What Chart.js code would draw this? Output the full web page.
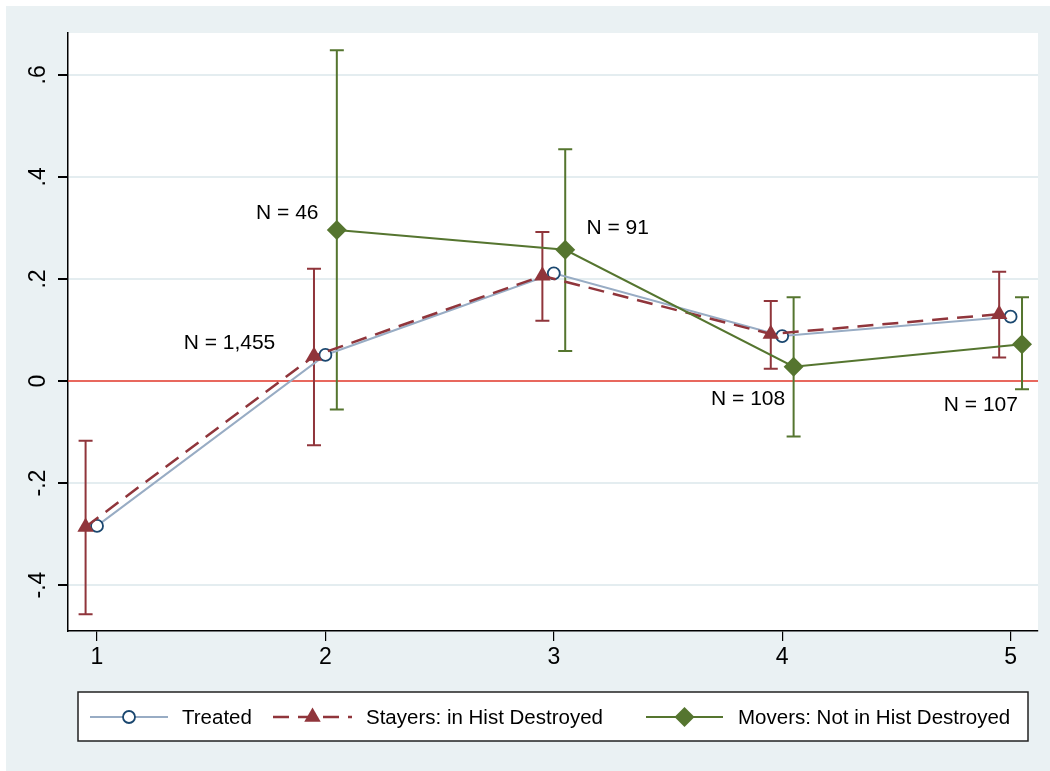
<!DOCTYPE html>
<html>
<head>
<meta charset="utf-8">
<script src="https://cdn.jsdelivr.net/npm/chart.js@4"></script>
<style>
  html, body { margin: 0; padding: 0; background: #fff; }
  #wrap { width: 1050px; height: 771px; }
</style>
</head>
<body>
<div id="wrap"><canvas id="chart" width="1050" height="771"></canvas></div>
<script>
// data
const periods = [1, 2, 3, 4, 5];
const xTicks = [1, 2, 3, 4, 5];
const yTicks = [-0.4, -0.2, 0, 0.2, 0.4, 0.6];
const yTickLabels = ['-.4', '-.2', '0', '.2', '.4', '.6'];

const treated = [-0.284, 0.051, 0.211, 0.088, 0.126];

const stayers = [-0.286, 0.049, 0.206, 0.092, 0.131];
const stayersLo = [-0.457, -0.126, 0.118, 0.024, 0.046];
const stayersHi = [-0.117, 0.220, 0.292, 0.157, 0.214];

const movers = [null, 0.296, 0.257, 0.028, 0.072];
const moversLo = [null, -0.056, 0.059, -0.109, -0.016];
const moversHi = [null, 0.648, 0.454, 0.164, 0.164];

const noteTexts = ['N = 1,455', 'N = 46', 'N = 91', 'N = 108', 'N = 107'];
const noteX = [1.58, 1.833, 3.28, 3.851, 4.87];
const noteY = [0.075, 0.329, 0.30, -0.035, -0.047];

const legendLabels = ['Treated', 'Stayers: in Hist Destroyed', 'Movers: Not in Hist Destroyed'];

// horizontal offset so the three series don't overlap
const shift = 0.05;

const FONT = "'Liberation Sans', Arial, sans-serif";
const C_TREAT_LINE = '#98acc4';
const C_TREAT_MARK = '#1a476f';
const C_STAY = '#90353b';
const C_MOVE = '#55752f';

function toPoints(vals, dx) {
    return periods.map((p, i) => vals[i] === null ? null : { x: p + dx, y: vals[i] }).filter(Boolean);
}

// backgrounds: light blue graph region, white plot region
const bgPlugin = {
    id: 'bg',
    beforeDraw(chart) {
        const ctx = chart.ctx;
        const a = chart.chartArea;
        ctx.save();
        ctx.fillStyle = '#ffffff';
        ctx.fillRect(0, 0, chart.width, chart.height);
        ctx.fillStyle = '#eaf1f3';
        ctx.fillRect(6, 6, chart.width - 6, chart.height - 6);
        ctx.fillStyle = '#ffffff';
        ctx.fillRect(a.left, a.top, a.right - a.left, a.bottom - a.top);
        ctx.restore();
    }
};

// red zero line, error bars, N labels, rotated y labels, legend
const extrasPlugin = {
    id: 'extras',
    beforeDatasetsDraw(chart) {
        const ctx = chart.ctx;
        const x = chart.scales.x, y = chart.scales.y;
        const a = chart.chartArea;
        ctx.save();
        ctx.strokeStyle = '#ea3b2e';
        ctx.lineWidth = 1.6;
        ctx.beginPath();
        ctx.moveTo(a.left, y.getPixelForValue(0));
        ctx.lineTo(a.right, y.getPixelForValue(0));
        ctx.stroke();

        const bars = [
            { mid: stayers, lo: stayersLo, hi: stayersHi, dx: -shift, color: C_STAY },
            { mid: movers, lo: moversLo, hi: moversHi, dx: shift, color: C_MOVE }
        ];
        bars.forEach(b => {
            ctx.strokeStyle = b.color;
            ctx.lineWidth = 2;
            periods.forEach((p, i) => {
                if (b.lo[i] === null) return;
                const px = x.getPixelForValue(p + b.dx);
                const top = y.getPixelForValue(b.hi[i]);
                const bot = y.getPixelForValue(b.lo[i]);
                ctx.beginPath();
                ctx.moveTo(px, top); ctx.lineTo(px, bot);
                ctx.moveTo(px - 7, top); ctx.lineTo(px + 7, top);
                ctx.moveTo(px - 7, bot); ctx.lineTo(px + 7, bot);
                ctx.stroke();
            });
        });
        ctx.restore();
    },
    afterDraw(chart) {
        const ctx = chart.ctx;
        const x = chart.scales.x, y = chart.scales.y;
        ctx.save();
        ctx.fillStyle = '#000';
        ctx.font = '21px ' + FONT;
        ctx.textAlign = 'center';
        ctx.textBaseline = 'middle';
        noteTexts.forEach((t, i) => {
            ctx.fillText(t, x.getPixelForValue(noteX[i]), y.getPixelForValue(noteY[i]));
        });

        // y tick labels, rotated like Stata
        ctx.font = '23px ' + FONT;
        yTicks.forEach((v, i) => {
            ctx.save();
            ctx.translate(39, y.getPixelForValue(v));
            ctx.rotate(-Math.PI / 2);
            ctx.fillText(yTickLabels[i], 0, 0);
            ctx.restore();
        });

        // legend
        const L = { left: 78, top: 692, right: 1028, bottom: 741 };
        ctx.fillStyle = '#ffffff';
        ctx.fillRect(L.left, L.top, L.right - L.left, L.bottom - L.top);
        ctx.strokeStyle = '#222';
        ctx.lineWidth = 1.5;
        ctx.strokeRect(L.left, L.top, L.right - L.left, L.bottom - L.top);
        const cy = 717;
        const items = [
            { x0: 90, x1: 168, tx: 182, ds: 0 },
            { x0: 273, x1: 352, tx: 366, ds: 1 },
            { x0: 646, x1: 723, tx: 738, ds: 2 }
        ];
        items.forEach(it => {
            const d = chart.data.datasets[it.ds];
            ctx.save();
            ctx.strokeStyle = d.borderColor;
            ctx.lineWidth = d.borderWidth;
            ctx.setLineDash(d.borderDash || []);
            ctx.beginPath();
            ctx.moveTo(it.x0, cy); ctx.lineTo(it.x1, cy);
            ctx.stroke();
            ctx.setLineDash([]);
            ctx.fillStyle = d.pointBackgroundColor;
            ctx.strokeStyle = d.pointBorderColor;
            ctx.lineWidth = d.pointBorderWidth;
            Chart.helpers.drawPoint(ctx, { pointStyle: d.pointStyle, radius: d.pointRadius, borderWidth: d.pointBorderWidth },
                (it.x0 + it.x1) / 2, cy);
            ctx.restore();
            ctx.fillStyle = '#000';
            ctx.font = '20.5px ' + FONT;
            ctx.textAlign = 'left';
            ctx.fillText(legendLabels[it.ds], it.tx, cy + 1);
        });
        ctx.restore();
    }
};

new Chart(document.getElementById('chart'), {
    type: 'line',
    data: {
        datasets: [
            {
                label: legendLabels[0],
                data: toPoints(treated, 0),
                borderColor: C_TREAT_LINE,
                borderWidth: 2,
                pointStyle: 'circle',
                pointRadius: 6,
                pointBorderWidth: 1.8,
                pointBorderColor: C_TREAT_MARK,
                pointBackgroundColor: '#ffffff',
                order: 3
            },
            {
                label: legendLabels[1],
                data: toPoints(stayers, -shift),
                borderColor: C_STAY,
                borderWidth: 2.5,
                borderDash: [16, 9],
                pointStyle: 'triangle',
                pointRadius: 9.5,
                pointBorderWidth: 0,
                pointBorderColor: C_STAY,
                pointBackgroundColor: C_STAY,
                order: 2
            },
            {
                label: legendLabels[2],
                data: toPoints(movers, shift),
                borderColor: C_MOVE,
                borderWidth: 2,
                pointStyle: 'rectRot',
                pointRadius: 10,
                pointBorderWidth: 0,
                pointBorderColor: C_MOVE,
                pointBackgroundColor: C_MOVE,
                order: 1
            }
        ]
    },
    options: {
        responsive: false,
        animation: false,
        layout: { padding: { left: 0, top: 33, right: 12, bottom: 100 } },
        plugins: {
            legend: { display: false },
            tooltip: { enabled: false }
        },
        scales: {
            x: {
                type: 'linear',
                min: 0.873,
                max: 5.12,
                afterBuildTicks: s => { s.ticks = xTicks.map(v => ({ value: v })); },
                afterFit: s => { s.height = 40; },
                border: { color: '#000', width: 1.5 },
                grid: { drawOnChartArea: false, color: '#000', tickLength: 10, lineWidth: 1.2 },
                ticks: {
                    color: '#000',
                    font: { family: FONT, size: 23 },
                    padding: 3,
                    maxRotation: 0,
                    callback: v => String(v)
                }
            },
            y: {
                min: -0.49,
                max: 0.682,
                afterBuildTicks: s => { s.ticks = yTicks.map(v => ({ value: v })); },
                afterFit: s => { s.width = 68; },
                border: { color: '#000', width: 1.5 },
                grid: { color: '#e4edf0', lineWidth: 2, tickColor: '#000', tickLength: 10 },
                ticks: { display: false }
            }
        }
    },
    plugins: [bgPlugin, extrasPlugin]
});
</script>
</body>
</html>
